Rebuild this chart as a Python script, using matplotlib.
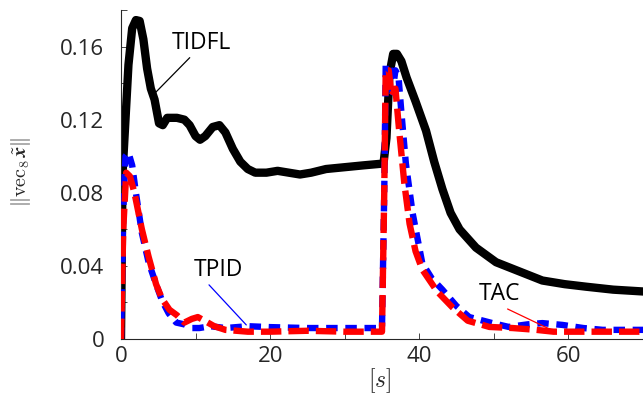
import matplotlib
matplotlib.use("Agg")
import matplotlib.pyplot as plt
from matplotlib.ticker import MultipleLocator

plt.rcParams["font.family"] = ["Open Sans", "DejaVu Sans"]
plt.rcParams["mathtext.fontset"] = "cm"

# TIDFL (black)
t_tidfl = [0, 0.2, 0.6, 1.0, 1.5, 2.0, 2.5, 3.0, 3.5, 4.0, 4.5, 5.1, 5.6, 6.2,
           7.5, 8.5, 9.2, 10, 10.6, 11.3, 12.3, 13.2, 14, 15, 16, 17, 18, 19.5,
           21, 22.5, 24, 25.5, 27.5, 30, 32.5, 35.2, 35.6, 36.0, 36.5, 37.0,
           37.6, 38.3, 39.5, 40.9, 42, 43.1, 44.2, 45.4, 47.6, 50.3, 53.4,
           56.5, 59.5, 62.4, 66, 70]
v_tidfl = [0.0, 0.09, 0.12, 0.15, 0.17, 0.1745, 0.174, 0.164, 0.148, 0.137,
           0.131, 0.118, 0.117, 0.121, 0.121, 0.12, 0.117, 0.111, 0.109, 0.111,
           0.116, 0.117, 0.113, 0.104, 0.097, 0.093, 0.091, 0.091, 0.092, 0.091,
           0.09, 0.091, 0.093, 0.094, 0.095, 0.096, 0.11, 0.145, 0.156, 0.156,
           0.152, 0.143, 0.13, 0.114, 0.097, 0.082, 0.069, 0.06, 0.05, 0.042,
           0.037, 0.032, 0.030, 0.0286, 0.027, 0.026]

# TPID (blue)
t_tpid = [0, 0.3, 0.6, 1.0, 1.5, 2.0, 2.8, 3.7, 4.7, 5.5, 6.4, 7.4, 8.5, 9.5,
          10.5, 12, 14, 17, 20, 25, 30, 35.0, 35.3, 35.5, 36.0, 36.4, 36.8,
          37.2, 37.6, 38.2, 39.1, 40.4, 41.7, 43.1, 45, 46.7, 49.8, 52, 54.5,
          56.5, 59.2, 62, 64.6, 70]
v_tpid = [0.0, 0.07, 0.1, 0.102, 0.095, 0.08, 0.058, 0.042, 0.03, 0.021, 0.014,
          0.009, 0.008, 0.006, 0.006, 0.007, 0.006, 0.007, 0.0065, 0.006, 0.006,
          0.006, 0.08, 0.15, 0.15, 0.135, 0.147, 0.144, 0.124, 0.096, 0.069,
          0.0415, 0.033, 0.027, 0.018, 0.012, 0.0087, 0.0066, 0.008, 0.0087,
          0.0077, 0.006, 0.005, 0.005]

# TAC (red)
t_tac = [0, 0.3, 0.7, 1.2, 1.8, 2.8, 3.7, 4.7, 5.5, 6.5, 7.5, 8.5, 9.5, 10.3,
         11.2, 12.5, 14, 17, 20, 25, 30, 35.0, 35.3, 35.5, 35.9, 36.3, 36.8,
         37.3, 38.0, 38.7, 39.5, 40.4, 42.4, 44.4, 46.5, 49.4, 52.5, 55.7, 58,
         62, 70]
v_tac = [0.0, 0.06, 0.091, 0.089, 0.08, 0.06, 0.045, 0.03, 0.022, 0.016, 0.013,
         0.009, 0.011, 0.012, 0.01, 0.007, 0.005, 0.004, 0.004, 0.0045, 0.004,
         0.004, 0.08, 0.147, 0.147, 0.133, 0.137, 0.114, 0.085, 0.063, 0.048,
         0.038, 0.026, 0.0175, 0.01, 0.0066, 0.006, 0.005, 0.004, 0.004, 0.004]

xticks = [0, 20, 40, 60]
yticks = [0, 0.04, 0.08, 0.12, 0.16]

fig = plt.figure(figsize=(6.43, 3.98), dpi=100)
ax = fig.add_axes([121 / 643, 59 / 398, 522 / 643, 329 / 398])

ax.plot(t_tidfl, v_tidfl, color="black", lw=6.0, solid_capstyle="round",
        solid_joinstyle="round", zorder=2)
ax.plot(t_tpid, v_tpid, color="blue", lw=4.6, dashes=(1.8, 1.2), zorder=3)
ax.plot(t_tac, v_tac, color="red", lw=4.6, dashes=(3.2, 1.1), zorder=4)

ax.set_xlim(0, 70)
ax.set_ylim(0, 0.18)
ax.set_xticks(xticks)
ax.set_yticks(yticks)
ax.set_yticklabels(["0", "0.04", "0.08", "0.12", "0.16"])
ax.xaxis.set_minor_locator(MultipleLocator(10))
ax.yaxis.set_minor_locator(MultipleLocator(0.02))
ax.tick_params(which="both", direction="in", colors="#262626", labelsize=16,
               length=4, width=0.6)
ax.tick_params(axis="x", pad=5)
ax.tick_params(axis="y", pad=12)
for s in ["top", "right"]:
    ax.spines[s].set_visible(False)
for s in ["left", "bottom"]:
    ax.spines[s].set_color("#262626")
    ax.spines[s].set_linewidth(0.8)

ax.set_xlabel(r"$[s]$", fontsize=17, color="#262626")
ax.xaxis.set_label_coords((380 - 121) / 522, -27 / 329)
# no \underline in mathtext, so the underbar is left out
ax.set_ylabel(r"$\|\mathrm{vec}_8\,\tilde{\boldsymbol{x}}\|$",
              fontsize=14.5, color="#262626", va="center")
ax.yaxis.set_label_coords(-100 / 522, (339 - 172) / 329)

lab = dict(fontsize=16.5, color="black", ha="left", va="center")
ax.annotate("TIDFL", xy=(4.3, 0.1335), xytext=(6.8, 0.162),
            arrowprops=dict(arrowstyle="-", color="black", lw=0.9,
                            shrinkA=0, shrinkB=0,
                            relpos=(0.35, 0.0)), **lab)
ax.annotate("TPID", xy=(16.8, 0.0077), xytext=(9.8, 0.0377),
            arrowprops=dict(arrowstyle="-", color="blue", lw=0.9,
                            shrinkA=0, shrinkB=0,
                            relpos=(0.25, 0.0)), **lab)
ax.annotate("TAC", xy=(57.7, 0.005), xytext=(48.0, 0.0245),
            arrowprops=dict(arrowstyle="-", color="red", lw=0.9,
                            shrinkA=0, shrinkB=0,
                            relpos=(0.55, 0.0)), **lab)

fig.savefig("out.png", dpi=100)
